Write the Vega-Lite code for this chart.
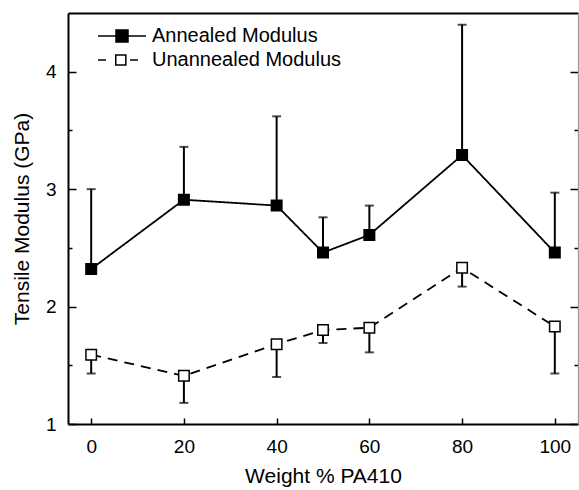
{
  "$schema": "https://vega.github.io/schema/vega-lite/v6.json",
  "autosize": {"type": "none"},
  "padding": {"left": 68, "top": 13, "right": 1, "bottom": 66},
  "width": 510,
  "height": 411,
  "background": "white",
  "config": {
    "view": {"stroke": null},
    "font": "Liberation Sans",
    "axis": {
      "grid": false,
      "domainColor": "black",
      "domainWidth": 2,
      "tickColor": "black",
      "tickWidth": 1.5,
      "labelFont": "Liberation Sans",
      "labelFontSize": 19,
      "labelColor": "black",
      "titleFont": "Liberation Sans",
      "titleFontSize": 21,
      "titleFontWeight": "normal",
      "titleColor": "black"
    },
    "legend": {
      "labelFont": "Liberation Sans",
      "labelFontSize": 20,
      "labelColor": "black",
      "labelLimit": 400,
      "symbolSize": 576,
      "symbolStrokeWidth": 1.5,
      "symbolStrokeColor": "black",
      "symbolOpacity": 1,
      "labelOffset": 17,
      "rowPadding": 1
    }
  },
  "data": {
    "values": [
      {"x": 0, "series": "Annealed Modulus", "mod": 2.32, "err": 3.00},
      {"x": 20, "series": "Annealed Modulus", "mod": 2.91, "err": 3.36},
      {"x": 40, "series": "Annealed Modulus", "mod": 2.86, "err": 3.62},
      {"x": 50, "series": "Annealed Modulus", "mod": 2.46, "err": 2.76},
      {"x": 60, "series": "Annealed Modulus", "mod": 2.61, "err": 2.86},
      {"x": 80, "series": "Annealed Modulus", "mod": 3.29, "err": 4.40},
      {"x": 100, "series": "Annealed Modulus", "mod": 2.46, "err": 2.97},
      {"x": 0, "series": "Unannealed Modulus", "mod": 1.59, "err": 1.43},
      {"x": 20, "series": "Unannealed Modulus", "mod": 1.41, "err": 1.18},
      {"x": 40, "series": "Unannealed Modulus", "mod": 1.68, "err": 1.40},
      {"x": 50, "series": "Unannealed Modulus", "mod": 1.80, "err": 1.69},
      {"x": 60, "series": "Unannealed Modulus", "mod": 1.82, "err": 1.61},
      {"x": 80, "series": "Unannealed Modulus", "mod": 2.33, "err": 2.17},
      {"x": 100, "series": "Unannealed Modulus", "mod": 1.83, "err": 1.43}
    ]
  },
  "layer": [
    {
      "mark": {"type": "line", "color": "black", "strokeWidth": 1.8},
      "encoding": {
        "x": {
          "field": "x", "type": "quantitative",
          "scale": {"domain": [-5, 105], "nice": false, "zero": false},
          "axis": {
            "orient": "bottom",
            "values": [0, 20, 40, 60, 80, 100],
            "tickSize": -6,
            "labelPadding": 19,
            "title": "Weight % PA410",
            "titlePadding": 9
          }
        },
        "y": {
          "field": "mod", "type": "quantitative",
          "scale": {"domain": [1, 4.5], "nice": false, "zero": false},
          "axis": {
            "orient": "left",
            "values": [1, 1.5, 2, 2.5, 3, 3.5, 4],
            "tickSize": {"condition": {"test": "datum.value % 1 === 0", "value": -8}, "value": -4},
            "labelExpr": "datum.value % 1 === 0 ? format(datum.value, 'd') : ''",
            "labelPadding": 20,
            "title": "Tensile Modulus (GPa)",
            "titlePadding": 13
          }
        },
        "detail": {"field": "series"},
        "strokeDash": {
          "condition": {"test": "datum.series === 'Unannealed Modulus'", "value": [10, 7]},
          "value": [1, 0]
        }
      }
    },
    {
      "mark": {"type": "rule", "color": "black", "strokeWidth": 2},
      "encoding": {
        "x": {
          "field": "x", "type": "quantitative",
          "axis": {"orient": "top", "ticks": false, "labels": false, "title": null, "domainWidth": 2}
        },
        "y": {
          "field": "mod", "type": "quantitative",
          "axis": {
            "orient": "right",
            "values": [1, 1.5, 2, 2.5, 3, 3.5, 4],
            "tickSize": {"condition": {"test": "datum.value % 1 === 0", "value": -8}, "value": -4},
            "labels": false,
            "title": null,
            "domainColor": "#999999",
            "domainWidth": 1.2
          }
        },
        "y2": {"field": "err"}
      }
    },
    {
      "mark": {"type": "tick", "orient": "horizontal", "color": "black", "size": 9, "thickness": 2},
      "encoding": {
        "x": {"field": "x", "type": "quantitative", "axis": null},
        "y": {"field": "err", "type": "quantitative", "axis": null}
      }
    },
    {
      "mark": {"type": "point", "shape": "square", "filled": true, "size": 110, "stroke": "black", "strokeWidth": 1.5, "opacity": 1},
      "encoding": {
        "x": {"field": "x", "type": "quantitative", "axis": null},
        "y": {"field": "mod", "type": "quantitative", "axis": null},
        "fill": {
          "condition": {"test": "datum.series === 'Annealed Modulus'", "value": "black"},
          "value": "white"
        }
      }
    },
    {
      "transform": [{"filter": "datum.x < -1000"}],
      "mark": {"type": "point", "filled": false, "color": "black", "strokeWidth": 1.5, "opacity": 1, "size": 576},
      "encoding": {
        "x": {"field": "x", "type": "quantitative", "axis": null},
        "y": {"field": "mod", "type": "quantitative", "axis": null},
        "shape": {
          "field": "series", "type": "nominal",
          "scale": {
            "domain": ["Annealed Modulus", "Unannealed Modulus"],
            "range": [
              "M-2,0H2M-0.5,-0.5H0.5V0.5H-0.5ZM-0.5,-0.4H0.5M-0.5,-0.3H0.5M-0.5,-0.2H0.5M-0.5,-0.1H0.5M-0.5,0.1H0.5M-0.5,0.2H0.5M-0.5,0.3H0.5M-0.5,0.4H0.5",
              "M-2,0H-1.33M-0.52,-0.42H0.32V0.42H-0.52ZM0.67,0H1.33"
            ]
          },
          "legend": {
            "title": null,
            "orient": "none",
            "legendX": 41,
            "legendY": 10,
            "symbolSize": 576,
            "symbolStrokeWidth": 1.5,
            "symbolStrokeColor": "black",
            "symbolOpacity": 1,
            "labelOffset": 17,
            "rowPadding": 1,
            "labelLimit": 400
          }
        }
      }
    }
  ],
  "resolve": {"axis": {"x": "independent", "y": "independent"}}
}
